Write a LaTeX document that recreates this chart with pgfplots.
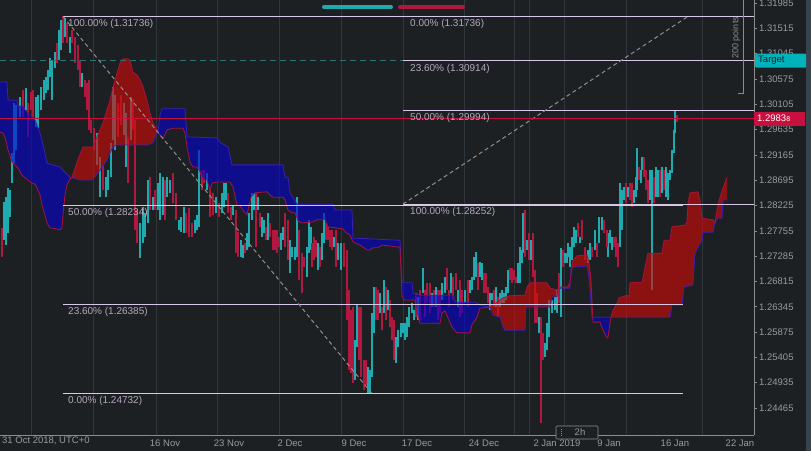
\documentclass[border=0pt]{standalone}
\usepackage{pgfplots}
\pgfplotsset{compat=1.18}
\usepackage{pgfplotstable}
\usepackage{fontspec}
\setmainfont{Liberation Sans}

\definecolor{bg}{HTML}{1D2023}
\definecolor{gridc}{HTML}{2F373E}
\definecolor{axisc}{HTML}{8C8C8C}
\definecolor{lbl}{HTML}{9A9A9A}
\definecolor{upc}{HTML}{1EAAAE}
\definecolor{dnc}{HTML}{B0183F}
\definecolor{cblue}{HTML}{0503D3}
\definecolor{cred}{HTML}{D70907}
\definecolor{spanAc}{HTML}{3C1EB4}
\definecolor{spanBc}{HTML}{A8123C}
\definecolor{fibc}{HTML}{D8C8E8}
\definecolor{fibtxt}{HTML}{B3A9BC}
\definecolor{pricec}{HTML}{C8103E}
\definecolor{targetc}{HTML}{00B2BA}
\definecolor{tgtline}{HTML}{2B7275}
\definecolor{diagc}{HTML}{8E8E8E}
\definecolor{strip}{HTML}{37444E}

\newcommand\lblfont{\fontsize{9.5}{11}\selectfont}
\newcommand\fibfont{\fontsize{10}{12}\selectfont}

\pgfplotstableread{
x lo hi
4 1.2758 1.2829
6 1.2749 1.2838
8 1.2772 1.2855
10 1.2801 1.2851
12 1.2864 1.2920
14 1.2901 1.3013
16 1.2926 1.3009
20 1.2987 1.3024
26 1.3000 1.3041
36 1.2968 1.3024
38 1.2966 1.3028
41 1.3000 1.3043
44 1.3018 1.3056
46 1.3031 1.3061
48 1.3037 1.3074
50 1.3061 1.3096
52 1.3018 1.3093
55 1.3078 1.3108
59 1.3093 1.3148
61 1.3111 1.3167
65 1.3135 1.3171
70 1.3106 1.3135
82 1.3043 1.3068
97 1.2898 1.2957
100 1.2838 1.2913
106 1.2838 1.2875
108 1.2851 1.2888
111 1.2875 1.2939
113 1.2944 1.3043
115 1.2926 1.3028
124 1.2953 1.3013
126 1.2894 1.2994
131 1.2944 1.3024
140 1.2725 1.2790
143 1.2753 1.2820
145 1.2764 1.2809
148 1.2790 1.2870
153 1.2814 1.2838
158 1.2814 1.2864
160 1.2796 1.2883
163 1.2805 1.2875
167 1.2838 1.2875
170 1.2846 1.2870
179 1.2777 1.2796
181 1.2773 1.2801
184 1.2772 1.2820
195 1.2772 1.2796
197 1.2777 1.2805
199 1.2783 1.2926
207 1.2851 1.2883
216 1.2809 1.2838
222 1.2809 1.2846
224 1.2820 1.2864
226 1.2833 1.2864
233 1.2805 1.2823
241 1.2727 1.2758
243 1.2725 1.2749
247 1.2740 1.2772
249 1.2745 1.2809
252 1.2796 1.2846
254 1.2814 1.2846
258 1.2814 1.2838
262 1.2764 1.2801
264 1.2772 1.2796
268 1.2758 1.2809
281 1.2740 1.2772
283 1.2758 1.2783
290 1.2697 1.2758
292 1.2727 1.2745
295 1.2721 1.2745
297 1.2727 1.2838
307 1.2690 1.2745
309 1.2734 1.2796
311 1.2740 1.2783
318 1.2703 1.2753
322 1.2721 1.2772
324 1.2753 1.2809
334 1.2745 1.2764
338 1.2721 1.2753
341 1.2703 1.2753
355 1.2499 1.2573
357 1.2560 1.2638
368 1.2473 1.2523
370 1.2473 1.2517
372 1.2504 1.2623
374 1.2586 1.2671
380 1.2623 1.2660
384 1.2623 1.2684
388 1.2628 1.2666
396 1.2530 1.2578
398 1.2560 1.2591
401 1.2578 1.2604
403 1.2586 1.2604
405 1.2573 1.2604
407 1.2578 1.2615
409 1.2597 1.2634
412 1.2623 1.2641
414 1.2610 1.2628
418 1.2610 1.2653
423 1.2660 1.2706
432 1.2634 1.2660
436 1.2634 1.2671
442 1.2647 1.2679
445 1.2660 1.2690
451 1.2660 1.2697
458 1.2634 1.2666
465 1.2641 1.2666
470 1.2660 1.2684
472 1.2666 1.2690
474 1.2684 1.2727
476 1.2690 1.2736
480 1.2690 1.2718
482 1.2684 1.2716
490 1.2628 1.2660
492 1.2647 1.2660
496 1.2634 1.2671
500 1.2634 1.2660
502 1.2641 1.2666
504 1.2641 1.2660
506 1.2647 1.2671
508 1.2660 1.2703
518 1.2679 1.2716
520 1.2679 1.2745
522 1.2716 1.2740
523 1.2734 1.2809
527 1.2740 1.2758
531 1.2721 1.2758
539 1.2586 1.2615
545 1.2541 1.2567
547 1.2554 1.2604
549 1.2578 1.2647
552 1.2623 1.2647
555 1.2628 1.2653
557 1.2623 1.2666
561 1.2615 1.2744
565 1.2716 1.2734
567 1.2716 1.2734
568 1.2727 1.2753
570 1.2708 1.2745
572 1.2721 1.2764
574 1.2745 1.2783
576 1.2753 1.2777
580 1.2753 1.2764
588 1.2716 1.2740
590 1.2721 1.2753
595 1.2740 1.2777
599 1.2753 1.2801
602 1.2777 1.2801
608 1.2727 1.2772
610 1.2753 1.2777
612 1.2740 1.2764
620 1.2745 1.2864
622 1.2777 1.2851
624 1.2833 1.2857
628 1.2838 1.2857
634 1.2827 1.2851
636 1.2838 1.2875
637 1.2851 1.2929
641 1.2864 1.2888
642 1.2888 1.2913
650 1.2833 1.2888
652 1.2666 1.2888
656 1.2838 1.2894
658 1.2838 1.2888
662 1.2846 1.2894
666 1.2838 1.2894
668 1.2833 1.2883
670 1.2870 1.2888
672 1.2883 1.2926
674 1.2920 1.2963
675 1.2957 1.3000
}\upC

\pgfplotstableread{
x lo hi
2 1.2727 1.2781
23 1.2987 1.3037
28 1.2950 1.3013
31 1.3000 1.3033
33 1.2987 1.3037
57 1.3087 1.3124
63 1.3124 1.3174
67 1.3124 1.3161
72 1.3124 1.3148
75 1.3087 1.3135
78 1.3074 1.3120
80 1.3043 1.3093
85 1.3024 1.3056
87 1.3000 1.3050
89 1.2963 1.3056
91 1.2957 1.2981
94 1.2926 1.2966
103 1.2851 1.2898
118 1.2950 1.3013
121 1.2972 1.3028
128 1.2864 1.2950
133 1.2963 1.3018
135 1.2777 1.2981
137 1.2753 1.2814
150 1.2814 1.2875
155 1.2814 1.2851
165 1.2796 1.2870
173 1.2827 1.2883
176 1.2796 1.2846
186 1.2772 1.2809
189 1.2764 1.2818
192 1.2764 1.2790
202 1.2851 1.2888
204 1.2864 1.2888
210 1.2801 1.2851
213 1.2805 1.2846
219 1.2801 1.2827
228 1.2809 1.2846
231 1.2796 1.2820
236 1.2734 1.2814
238 1.2727 1.2773
245 1.2734 1.2753
256 1.2745 1.2846
260 1.2783 1.2809
266 1.2758 1.2783
270 1.2764 1.2790
273 1.2740 1.2777
275 1.2740 1.2777
277 1.2734 1.2777
279 1.2745 1.2764
285 1.2745 1.2809
288 1.2721 1.2796
299 1.2684 1.2777
302 1.2660 1.2734
304 1.2708 1.2727
312 1.2708 1.2753
314 1.2721 1.2764
316 1.2727 1.2758
320 1.2708 1.2745
326 1.2758 1.2790
328 1.2758 1.2783
330 1.2745 1.2777
332 1.2740 1.2777
336 1.2708 1.2777
344 1.2708 1.2753
347 1.2610 1.2740
349 1.2517 1.2666
351 1.2511 1.2628
353 1.2493 1.2634
359 1.2536 1.2634
361 1.2504 1.2634
364 1.2480 1.2536
366 1.2489 1.2536
376 1.2610 1.2671
378 1.2610 1.2666
382 1.2591 1.2634
386 1.2610 1.2671
390 1.2597 1.2647
392 1.2573 1.2615
394 1.2536 1.2610
416 1.2615 1.2660
420 1.2610 1.2666
425 1.2615 1.2666
427 1.2641 1.2679
430 1.2623 1.2679
434 1.2634 1.2666
438 1.2610 1.2666
440 1.2623 1.2666
447 1.2666 1.2706
449 1.2634 1.2666
453 1.2647 1.2690
456 1.2666 1.2697
460 1.2615 1.2684
462 1.2623 1.2666
468 1.2634 1.2684
478 1.2666 1.2716
484 1.2660 1.2697
486 1.2660 1.2697
488 1.2641 1.2671
494 1.2634 1.2666
498 1.2615 1.2653
510 1.2684 1.2706
512 1.2679 1.2706
514 1.2684 1.2703
516 1.2679 1.2690
525 1.2727 1.2814
529 1.2721 1.2772
533 1.2690 1.2772
535 1.2604 1.2703
537 1.2604 1.2660
541 1.2419 1.2615
543 1.2536 1.2586
559 1.2641 1.2697
563 1.2708 1.2740
578 1.2764 1.2790
582 1.2758 1.2796
585 1.2721 1.2745
592 1.2727 1.2745
597 1.2727 1.2753
604 1.2772 1.2796
607 1.2745 1.2777
614 1.2745 1.2764
616 1.2727 1.2764
618 1.2708 1.2753
626 1.2827 1.2864
630 1.2833 1.2864
632 1.2820 1.2864
639 1.2870 1.2894
644 1.2875 1.2913
646 1.2851 1.2888
648 1.2827 1.2870
654 1.2827 1.2875
660 1.2838 1.2888
664 1.2851 1.2888
677 1.2978 1.2991
}\dnC

\pgfplotstableread{
x y
0 1.3052
7 1.3052
8 1.3018
17 1.3018
18 1.3007
23 1.3007
25 1.3000
32 1.2987
35 1.2981
40 1.2957
45 1.2920
47 1.2901
60 1.2894
63 1.2888
70 1.2875
72 1.2874
80 1.2870
92 1.2870
95 1.2875
100 1.2888
107 1.2907
110 1.2920
113 1.2931
117 1.2935
147 1.2935
153 1.2939
157 1.2957
158 1.2959
160 1.2991
162 1.3002
185 1.3002
187 1.2950
217 1.2948
220 1.2940
228 1.2931
232 1.2898
283 1.2898
285 1.2875
288 1.2875
290 1.2846
297 1.2825
333 1.2825
335 1.2814
352 1.2814
353 1.2762
400 1.2758
402 1.2679
412 1.2679
413 1.2660
420 1.2656
453 1.2656
455 1.2643
475 1.2643
480 1.2638
490 1.2634
493 1.2619
500 1.2615
503 1.2597
505 1.2591
525 1.2591
526 1.2634
550 1.2634
552 1.2653
557 1.2653
558 1.2669
570 1.2669
571 1.2708
587 1.2710
589 1.2690
592 1.2615
670 1.2615
672 1.2638
682 1.2638
684 1.2671
693 1.2675
695 1.2734
698 1.2745
702 1.2758
703 1.2773
713 1.2773
715 1.2792
718 1.2799
722 1.2799
723 1.2833
727 1.2833
}\spanA

\pgfplotstableread{
x y
0 1.2959
3 1.2957
5 1.2950
8 1.2926
12 1.2903
15 1.2898
18 1.2892
22 1.2879
25 1.2874
32 1.2864
35 1.2862
37 1.2855
40 1.2842
42 1.2823
45 1.2805
47 1.2790
50 1.2781
57 1.2779
60 1.2777
62 1.2781
63 1.2805
65 1.2842
67 1.2861
70 1.2872
72 1.2874
77 1.2903
83 1.2931
93 1.2931
97 1.2950
103 1.2976
110 1.3018
113 1.3043
117 1.3068
120 1.3087
123 1.3095
128 1.3095
130 1.3091
133 1.3070
137 1.3065
140 1.3056
143 1.3043
147 1.3018
150 1.2994
153 1.2976
157 1.2963
158 1.2959
160 1.2953
163 1.2946
167 1.2963
173 1.2966
183 1.2966
185 1.2957
187 1.2931
190 1.2903
193 1.2894
197 1.2894
200 1.2885
203 1.2870
207 1.2870
210 1.2851
212 1.2864
217 1.2866
230 1.2866
233 1.2857
237 1.2823
240 1.2822
243 1.2814
247 1.2805
249 1.2823
251 1.2838
255 1.2846
267 1.2848
270 1.2842
273 1.2838
283 1.2838
285 1.2833
288 1.2814
292 1.2809
295 1.2809
298 1.2794
302 1.2790
313 1.2792
317 1.2796
325 1.2796
328 1.2783
343 1.2779
346 1.2772
350 1.2768
353 1.2755
360 1.2749
367 1.2740
370 1.2740
373 1.2744
378 1.2744
382 1.2749
400 1.2745
402 1.2656
404 1.2647
415 1.2647
417 1.2623
420 1.2604
440 1.2604
442 1.2623
445 1.2627
448 1.2614
452 1.2597
457 1.2586
470 1.2586
472 1.2601
477 1.2615
480 1.2632
490 1.2634
497 1.2643
503 1.2651
510 1.2655
525 1.2656
527 1.2671
530 1.2679
547 1.2679
550 1.2669
557 1.2666
560 1.2671
567 1.2671
570 1.2679
573 1.2721
577 1.2729
587 1.2731
589 1.2718
591 1.2684
593 1.2606
600 1.2606
603 1.2591
607 1.2577
608 1.2578
610 1.2604
611 1.2615
613 1.2628
617 1.2641
619 1.2651
627 1.2656
629 1.2653
630 1.2679
640 1.2680
642 1.2679
645 1.2708
648 1.2734
662 1.2734
664 1.2758
670 1.2758
672 1.2783
685 1.2786
687 1.2792
688 1.2827
690 1.2846
698 1.2848
700 1.2833
702 1.2799
713 1.2796
715 1.2790
717 1.2814
719 1.2831
723 1.2855
727 1.2875
}\spanB

\begin{document}
\begin{tikzpicture}
\useasboundingbox (0pt,0pt) rectangle (811pt,451pt);
\fill[bg] (0pt,0pt) rectangle (811pt,451pt);
\fill[strip] (806pt,0pt) rectangle (811pt,451pt);
\begin{axis}[
  at={(0pt,16pt)}, anchor=south west,
  scale only axis, width=754pt, height=435pt,
  xmin=0, xmax=754, ymin=1.23964, ymax=1.32041,
  axis x line*=bottom, axis y line*=right,
  axis line style={draw=axisc, line width=0.8pt, -},
  clip=false,
  scaled y ticks=false,
  xtick={165,229,290,354,417,484,557,609,675,740},
  xticklabels={16 Nov,23 Nov,2 Dec,9 Dec,17 Dec,24 Dec,2 Jan 2019,9 Jan,16 Jan,22 Jan},
  x tick style={draw=none},
  xticklabel style={font=\lblfont, text=lbl, inner sep=0pt, anchor=north, yshift=-2pt},
  extra x ticks={31,93,156,217,279,341,403,464,514,529,564,626,702},
  extra x tick labels={},
  extra x tick style={grid=major, tick style={draw=none}},
  major grid style={draw=gridc, line width=0.8pt},
  ytick={1.24465,1.24935,1.25405,1.25875,1.26345,1.26815,1.27285,1.27755,1.28225,1.28695,1.29165,1.29635,1.30105,1.30575,1.31045,1.31515,1.31985},
  yticklabels={1.24465,1.24935,1.25405,1.25875,1.26345,1.26815,1.27285,1.27755,1.28225,1.28695,1.29165,1.29635,1.30105,1.30575,1.31045,1.31515,1.31985},
  y tick style={draw=axisc, line width=0.6pt},
  tick align=outside, major tick length=3pt,
  yticklabel style={font=\lblfont, text=lbl, inner sep=0pt, anchor=west, xshift=2pt},
]
% candles
\addplot[draw=none, error bars/.cd, y dir=plus, y explicit, error mark=none,
  error bar style={draw=upc, line width=1.3pt}]
  table[x=x, y=lo, y error expr=\thisrow{hi}-\thisrow{lo}]{\upC};
\addplot[draw=none, error bars/.cd, y dir=plus, y explicit, error mark=none,
  error bar style={draw=dnc, line width=1.3pt}]
  table[x=x, y=lo, y error expr=\thisrow{hi}-\thisrow{lo}]{\dnC};

% cloud regions (between the two spans)
\addplot[fill=cblue, fill opacity=0.6, draw=none] coordinates {
(0,1.3052)(7,1.3052)(8,1.3018)(17,1.3018)(18,1.3007)(23,1.3007)(25,1.3000)(32,1.2987)(35,1.2981)(40,1.2957)(45,1.2920)(47,1.2901)(60,1.2894)(63,1.2888)(70,1.2875)(72,1.2874)
(70,1.2872)(67,1.2861)(65,1.2842)(63,1.2805)(62,1.2781)(60,1.2777)(57,1.2779)(50,1.2781)(47,1.2790)(45,1.2805)(42,1.2823)(40,1.2842)(37,1.2855)(35,1.2862)(32,1.2864)(25,1.2874)(22,1.2879)(18,1.2892)(15,1.2898)(12,1.2903)(8,1.2926)(5,1.2950)(3,1.2957)(0,1.2959)};
\addplot[fill=cred, fill opacity=0.6, draw=none] coordinates {
(72,1.2874)(77,1.2903)(83,1.2931)(93,1.2931)(97,1.2950)(103,1.2976)(110,1.3018)(113,1.3043)(117,1.3068)(120,1.3087)(123,1.3095)(128,1.3095)(130,1.3091)(133,1.3070)(137,1.3065)(140,1.3056)(143,1.3043)(147,1.3018)(150,1.2994)(153,1.2976)(157,1.2963)(158,1.2959)
(157,1.2957)(153,1.2939)(147,1.2935)(117,1.2935)(113,1.2931)(110,1.2920)(107,1.2907)(100,1.2888)(95,1.2875)(92,1.2870)(80,1.2870)};
\addplot[fill=cblue, fill opacity=0.6, draw=none] coordinates {
(158,1.2959)(160,1.2991)(162,1.3002)(185,1.3002)(187,1.2950)(217,1.2948)(220,1.2940)(228,1.2931)(232,1.2898)(283,1.2898)(285,1.2875)(288,1.2875)(290,1.2846)(297,1.2825)(333,1.2825)(335,1.2814)(352,1.2814)(353,1.2762)(400,1.2758)(402,1.2679)(412,1.2679)(413,1.2660)(420,1.2656)(453,1.2656)(455,1.2643)(475,1.2643)(480,1.2638)(490,1.2634)
(480,1.2632)(477,1.2615)(472,1.2601)(470,1.2586)(457,1.2586)(452,1.2597)(448,1.2614)(445,1.2627)(442,1.2623)(440,1.2604)(420,1.2604)(417,1.2623)(415,1.2647)(404,1.2647)(402,1.2656)(400,1.2745)(382,1.2749)(378,1.2744)(373,1.2744)(370,1.2740)(367,1.2740)(360,1.2749)(353,1.2755)(350,1.2768)(346,1.2772)(343,1.2779)(328,1.2783)(325,1.2796)(317,1.2796)(313,1.2792)(302,1.2790)(298,1.2794)(295,1.2809)(292,1.2809)(288,1.2814)(285,1.2833)(283,1.2838)(273,1.2838)(270,1.2842)(267,1.2848)(255,1.2846)(251,1.2838)(249,1.2823)(247,1.2805)(243,1.2814)(240,1.2822)(237,1.2823)(233,1.2857)(230,1.2866)(217,1.2866)(212,1.2864)(210,1.2851)(207,1.2870)(203,1.2870)(200,1.2885)(197,1.2894)(193,1.2894)(190,1.2903)(187,1.2931)(185,1.2957)(183,1.2966)(173,1.2966)(167,1.2963)(163,1.2946)(160,1.2953)};
\addplot[fill=cred, fill opacity=0.6, draw=none] coordinates {
(490,1.2634)(497,1.2643)(503,1.2651)(510,1.2655)(525,1.2656)(527,1.2671)(530,1.2679)(547,1.2679)(550,1.2669)(557,1.2666)(560,1.2671)(567,1.2671)(570,1.2679)(573,1.2721)(577,1.2729)(587,1.2731)(589,1.2718)(591,1.2684)(592.2,1.2617)
(589,1.2690)(587,1.2710)(571,1.2708)(570,1.2669)(558,1.2669)(557,1.2653)(552,1.2653)(550,1.2634)(526,1.2634)(525,1.2591)(505,1.2591)(503,1.2597)(500,1.2615)(493,1.2619)};
\addplot[fill=cblue, fill opacity=0.6, draw=none] coordinates {
(592.2,1.2617)(593,1.2615)(611,1.2615)(610,1.2604)(608,1.2578)(607,1.2577)(603,1.2591)(600,1.2606)(593,1.2606)};
\addplot[fill=cred, fill opacity=0.6, draw=none] coordinates {
(611,1.2615)(613,1.2628)(617,1.2641)(619,1.2651)(627,1.2656)(629,1.2653)(630,1.2679)(640,1.2680)(642,1.2679)(645,1.2708)(648,1.2734)(662,1.2734)(664,1.2758)(670,1.2758)(672,1.2783)(685,1.2786)(687,1.2792)(688,1.2827)(690,1.2846)(698,1.2848)(700,1.2833)(702,1.2799)(713,1.2796)(715,1.2790)(717,1.2814)(719,1.2831)(723,1.2855)(727,1.2875)
(727,1.2833)(723,1.2833)(722,1.2799)(718,1.2799)(715,1.2792)(713,1.2773)(703,1.2773)(702,1.2758)(698,1.2745)(695,1.2734)(693,1.2675)(684,1.2671)(682,1.2638)(672,1.2638)(670,1.2615)};
\addplot[spanAc, line width=0.8pt] table[x=x,y=y]{\spanA};
\addplot[spanBc, line width=0.8pt] table[x=x,y=y]{\spanB};

% target dashed line
\addplot[tgtline, line width=0.8pt, dash pattern=on 6pt off 4pt] coordinates {(0,1.30914) (403,1.30914)};

% first fibonacci
\addplot[fibc, line width=1pt] coordinates {(63,1.31736) (683,1.31736)};
\addplot[fibc, line width=1pt] coordinates {(63,1.28234) (683,1.28234)};
\addplot[fibc, line width=1pt] coordinates {(63,1.26385) (683,1.26385)};
\addplot[fibc, line width=1pt] coordinates {(63,1.24732) (683,1.24732)};
\addplot[diagc, line width=1pt, dash pattern=on 4pt off 3pt] coordinates {(63,1.31736) (372,1.24732)};
% second fibonacci
\addplot[fibc, line width=1pt] coordinates {(403,1.31736) (754,1.31736)};
\addplot[fibc, line width=1pt] coordinates {(403,1.30914) (754,1.30914)};
\addplot[fibc, line width=1pt] coordinates {(403,1.29994) (754,1.29994)};
\addplot[fibc, line width=1pt] coordinates {(403,1.28252) (754,1.28252)};
\addplot[diagc, line width=1pt, dash pattern=on 4pt off 3pt] coordinates {(403,1.28252) (688,1.31736)};

% current price
\addplot[pricec, line width=1pt] coordinates {(0,1.29838) (754,1.29838)};

% 200 points ruler
\addplot[axisc, line width=0.8pt] coordinates {(743,1.3204) (743,1.3030) (738,1.3030)};
\node[rotate=90, font=\fontsize{9}{10}\selectfont, text=axisc, inner sep=0pt] at (axis cs:736,1.3134) {200 points};

% fib labels
\node[anchor=west, inner sep=0pt, font=\fibfont, text=fibtxt] at (axis cs:68,1.3160) {100.00\% (1.31736)};
\node[anchor=west, inner sep=0pt, font=\fibfont, text=fibtxt] at (axis cs:68,1.2809) {50.00\% (1.28234)};
\node[anchor=west, inner sep=0pt, font=\fibfont, text=fibtxt] at (axis cs:68,1.2625) {23.60\% (1.26385)};
\node[anchor=west, inner sep=0pt, font=\fibfont, text=fibtxt] at (axis cs:68,1.2460) {0.00\% (1.24732)};
\node[anchor=west, inner sep=0pt, font=\fibfont, text=fibtxt] at (axis cs:410,1.3160) {0.00\% (1.31736)};
\node[anchor=west, inner sep=0pt, font=\fibfont, text=fibtxt] at (axis cs:410,1.3076) {23.60\% (1.30914)};
\node[anchor=west, inner sep=0pt, font=\fibfont, text=fibtxt] at (axis cs:410,1.2985) {50.00\% (1.29994)};
\node[anchor=west, inner sep=0pt, font=\fibfont, text=fibtxt] at (axis cs:410,1.2810) {100.00\% (1.28252)};

\node[anchor=north west, inner sep=0pt, font=\lblfont, text=lbl, yshift=-2pt] at (axis cs:2,1.23964) {31 Oct 2018, UTC+0};

\node[fill=targetc, text=bg, anchor=west, minimum height=14pt, text width=45pt, inner xsep=3pt, inner ysep=0pt, align=left, font=\lblfont, rounded corners=1pt] at (axis cs:755,1.30914) {Target};
\node[fill=pricec, text=white, anchor=west, minimum height=14pt, text width=45pt, inner xsep=3pt, inner ysep=0pt, align=left, font=\lblfont] at (axis cs:754,1.29838) {1.2983{\fontsize{7}{8}\selectfont 8}};
\end{axis}

% top legend bars
\draw[upc, line width=4pt, line cap=round] (324pt,444pt) -- (391pt,444pt);
\draw[dnc, line width=4pt, line cap=round] (400pt,444pt) -- (463pt,444pt);

% timeframe box
\draw[axisc, fill=bg, line width=0.6pt, rounded corners=1pt] (556pt,12pt) rectangle (598pt,25pt);
\foreach \yy in {15,17,19,21} \fill[axisc] (561pt,\yy pt) rectangle (562pt,\yy pt+0.8pt);
\node[font=\lblfont, text=lbl, inner sep=0pt] at (580pt,18.5pt) {2h};
\end{tikzpicture}
\end{document}
